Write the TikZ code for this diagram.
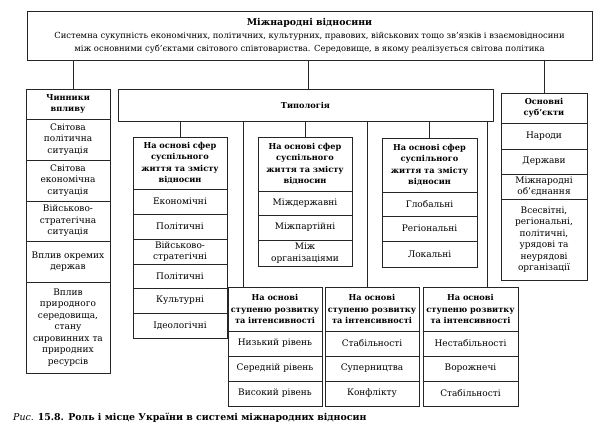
\documentclass[tikz,border=0pt]{standalone}
\usepackage{fontspec}
\setmainfont{DejaVu Serif}
\newcommand\itemfont{\fontsize{9}{11.5}\selectfont}
\newcommand\bodyfont{\fontsize{8.4}{13}\selectfont}
\newcommand\titlefont{\fontsize{8.2}{11.5}\selectfont\bfseries}
\newcommand\cellat[7]{%
  \pgfmathsetmacro\cw{#5-#3}\pgfmathsetmacro\ch{#6-#4}\pgfmathsetmacro\tw{#5-#3-2}%
  \node[#2, minimum width=\cw pt, minimum height=\ch pt, text width=\tw pt] (#1) at ({(#3+#5)/2},{(#4+#6)/2}) {#7};}
\tikzset{
  cell/.style={draw=black!85, line width=0.75pt, inner sep=0pt, align=center, font=\itemfont, text=black},
  ttl/.style={cell, font=\titlefont},
  link/.style={draw=black!85, line width=0.75pt},
}
\begin{document}
\begin{tikzpicture}[x=1pt,y=-1pt]
\useasboundingbox[fill=white] (0,0) rectangle (600,439);
% top box
\node[cell, font=\bodyfont, minimum width=565pt, minimum height=49pt] (top) at (309.5,35.5)
  {{\fontsize{9.4}{13}\selectfont\bfseries Міжнародні відносини}\\
   Системна сукупність економічних, політичних, культурних, правових, військових тощо зв’язків і взаємовідносини\\
   між основними суб’єктами світового співтовариства. Середовище, в якому реалізується світова політика};
% left column
\cellat{chin0}{ttl}{26}{89}{110}{119}{Чинники\\впливу}
\cellat{chin1}{cell}{26}{119}{110}{160}{Світова\\політична\\ситуація}
\cellat{chin2}{cell}{26}{160}{110}{201}{Світова\\економічна\\ситуація}
\cellat{chin3}{cell}{26}{201}{110}{241}{Військово-\\стратегічна\\ситуація}
\cellat{chin4}{cell}{26}{241}{110}{282}{Вплив окремих\\держав}
\cellat{chin5}{cell}{26}{282}{110}{373}{Вплив\\природного\\середовища,\\стану\\сировинних та\\природних\\ресурсів}
% typology
\cellat{typ}{ttl}{118}{89}{493}{121}{Типологія}
% child 1
\cellat{s1t}{ttl}{133}{137}{227}{189}{На основі сфер\\суспільного\\життя та змісту\\відносин}
\cellat{s1a}{cell}{133}{189}{227}{214}{Економічні}
\cellat{s1b}{cell}{133}{214}{227}{239}{Політичні}
\cellat{s1c}{cell}{133}{239}{227}{264}{Військово-\\стратегічні}
\cellat{s1d}{cell}{133}{264}{227}{288}{Політичні}
\cellat{s1e}{cell}{133}{288}{227}{313}{Культурні}
\cellat{s1f}{cell}{133}{313}{227}{338}{Ідеологічні}
% child 2
\cellat{s2t}{ttl}{258}{137}{352}{191}{На основі сфер\\суспільного\\життя та змісту\\відносин}
\cellat{s2a}{cell}{258}{191}{352}{215}{Міждержавні}
\cellat{s2b}{cell}{258}{215}{352}{240}{Міжпартійні}
\cellat{s2c}{cell}{258}{240}{352}{266}{Між\\організаціями}
% child 3
\cellat{s3t}{ttl}{382}{138}{477}{192}{На основі сфер\\суспільного\\життя та змісту\\відносин}
\cellat{s3a}{cell}{382}{192}{477}{216}{Глобальні}
\cellat{s3b}{cell}{382}{216}{477}{241}{Регіональні}
\cellat{s3c}{cell}{382}{241}{477}{267}{Локальні}
% bottom row
\cellat{b1t}{ttl}{228}{287}{322}{331}{На основі\\ступеню розвитку\\та інтенсивності}
\cellat{b1a}{cell}{228}{331}{322}{356}{Низький рівень}
\cellat{b1b}{cell}{228}{356}{322}{381}{Середній рівень}
\cellat{b1c}{cell}{228}{381}{322}{406}{Високий рівень}
\cellat{b2t}{ttl}{325}{287}{419}{331}{На основі\\ступеню розвитку\\та інтенсивності}
\cellat{b2a}{cell}{325}{331}{419}{356}{Стабільності}
\cellat{b2b}{cell}{325}{356}{419}{381}{Суперництва}
\cellat{b2c}{cell}{325}{381}{419}{406}{Конфлікту}
\cellat{b3t}{ttl}{423}{287}{518}{331}{На основі\\ступеню розвитку\\та інтенсивності}
\cellat{b3a}{cell}{423}{331}{518}{356}{Нестабільності}
\cellat{b3b}{cell}{423}{356}{518}{381}{Ворожнечі}
\cellat{b3c}{cell}{423}{381}{518}{406}{Стабільності}
% right column
\cellat{o0}{ttl}{501}{93}{587}{123}{Основні\\суб’єкти}
\cellat{o1}{cell}{501}{123}{587}{149}{Народи}
\cellat{o2}{cell}{501}{149}{587}{174}{Держави}
\cellat{o3}{cell}{501}{174}{587}{199}{Міжнародні\\об’єднання}
\cellat{o4}{cell}{501}{199}{587}{280}{Всесвітні,\\регіональні,\\політичні,\\урядові та\\неурядові\\організації}
% connectors
\draw[link] ([xshift=5pt]chin0.north) -- ([xshift=5pt]chin0.north |- top.south);
\draw[link] ([xshift=2.5pt]typ.north) -- ([xshift=2.5pt]typ.north |- top.south);
\draw[link] (o0.north) -- (o0.north |- top.south);
\draw[link] (s1t.north) -- (s1t.north |- typ.south);
\draw[link] (s2t.north) -- (s2t.north |- typ.south);
\draw[link] (s3t.north) -- (s3t.north |- typ.south);
\draw[link] ([xshift=-32pt]b1t.north) -- ([xshift=-32pt]b1t.north |- typ.south);
\draw[link] ([xshift=-5pt]b2t.north) -- ([xshift=-5pt]b2t.north |- typ.south);
\draw[link] ([xshift=16.5pt]b3t.north) -- ([xshift=16.5pt]b3t.north |- typ.south);
% caption
\node[anchor=base west, inner sep=0pt, font=\fontsize{9.4}{11}\selectfont, text=black] (cap) at (13,420)
  {\textit{Рис.} \textbf{15.8. Роль і місце України в системі міжнародних відносин}};
\end{tikzpicture}
\end{document}
